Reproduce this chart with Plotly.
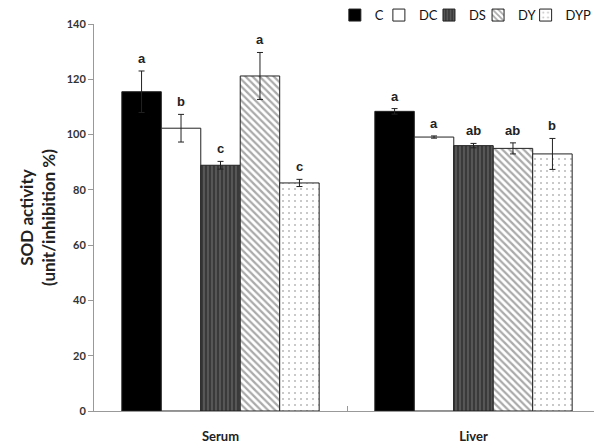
import plotly.graph_objects as go

tissues = ["Serum", "Liver"]
groups = ["C", "DC", "DS", "DY", "DYP"]
values = {
    "C":   [115.5, 108.4],
    "DC":  [102.3, 99.1],
    "DS":  [88.9, 96.0],
    "DY":  [121.2, 95.0],
    "DYP": [82.5, 93.0],
}
errors = {
    "C":   [7.5, 1.0],
    "DC":  [5.0, 0.4],
    "DS":  [1.4, 0.8],
    "DY":  [8.5, 2.0],
    "DYP": [1.3, 5.6],
}
letters = {
    "C":   ["a", "a"],
    "DC":  ["b", "a"],
    "DS":  ["c", "ab"],
    "DY":  ["a", "ab"],
    "DYP": ["c", "b"],
}

styles = {
    "C":   dict(color="black"),
    "DC":  dict(color="white"),
    "DS":  dict(color="#3c3c3c", pattern=dict(shape="|", bgcolor="#3a3a3a", fgcolor="#8a8a8a", size=4, solidity=0.35)),
    "DY":  dict(color="white", pattern=dict(shape="\\", bgcolor="white", fgcolor="#555555", size=5, solidity=0.45)),
    "DYP": dict(color="white", pattern=dict(shape=".", bgcolor="white", fgcolor="#777777", size=6, solidity=0.1)),
}
legend_x = {"C": 0.476, "DC": 0.563, "DS": 0.662, "DY": 0.759, "DYP": 0.853}

bargap = 0.22
xpos = list(range(len(tissues)))

fig = go.Figure()
legends = {}
for i, g in enumerate(groups):
    lname = "legend" if i == 0 else f"legend{i + 1}"
    fig.add_trace(go.Bar(
        name=g, x=xpos, y=values[g], legend=lname,
        marker=dict(line=dict(color="#222222", width=1), **styles[g]),
        error_y=dict(type="data", array=errors[g], color="#222222", thickness=1, width=3),
    ))
    legends[lname] = dict(orientation="h", x=legend_x[g], y=1.023, xanchor="left", yanchor="middle",
                          font=dict(family="Lato, Noto Sans", size=13, color="#111111"),
                          itemwidth=30, bgcolor="rgba(0,0,0,0)")

w = (1 - bargap) / len(groups)
for i, g in enumerate(groups):
    for j in xpos:
        fig.add_annotation(
            x=j + (i - (len(groups) - 1) / 2) * w,
            y=values[g][j] + errors[g][j],
            text=letters[g][j], showarrow=False, yanchor="bottom", yshift=3,
            font=dict(family="Liberation Sans Narrow, Liberation Sans", size=13, color="#222222", weight="bold"),
        )

fig.update_layout(
    width=594, height=439,
    margin=dict(l=86, r=2, t=16, b=36, autoexpand=False),
    paper_bgcolor="white", plot_bgcolor="white",
    barmode="group", bargap=bargap, bargroupgap=0,
    showlegend=True,
    xaxis=dict(range=[-0.5, 1.5], tickvals=xpos, ticktext=tissues, ticks="",
               showline=True, linecolor="#999999", linewidth=1,
               ticklabelstandoff=13,
               tickfont=dict(family="Lato, Noto Sans", size=13, color="#222222", weight="bold"),
               minor=dict(tickvals=[0.5], ticks="inside", ticklen=5, tickcolor="#999999"),
               showgrid=False, zeroline=False, fixedrange=True),
    yaxis=dict(range=[0, 140], dtick=20, ticks="outside", ticklen=5, tickcolor="#999999",
               showline=True, linecolor="#999999", linewidth=1,
               tickfont=dict(family="Lato, Noto Sans", size=11, color="#333333", weight="bold"),
               title=dict(text="SOD activity<br>(unit/inhibition %)", standoff=6,
                          font=dict(family="Lato, Noto Sans", size=17, color="#222222", weight="bold")),
               showgrid=False, zeroline=False),
    **legends,
)

fig.write_html("out.html")
